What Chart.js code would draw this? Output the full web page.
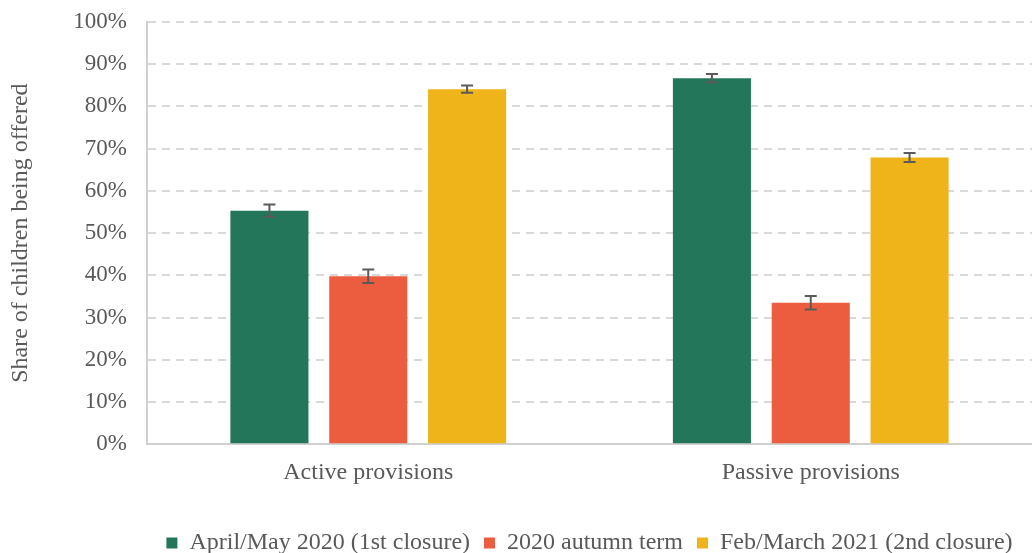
<!DOCTYPE html>
<html>
<head>
<meta charset="utf-8">
<script src="https://cdn.jsdelivr.net/npm/chart.js@4/dist/chart.umd.min.js"></script>
<style>
  html, body { margin: 0; padding: 0; background: #fff; }
  #wrap { width: 1032px; height: 553px; }
</style>
</head>
<body>
<div id="wrap"><canvas id="mainChart"></canvas></div>
<script>
// chart data
var categories = ['Active provisions', 'Passive provisions'];
var seriesNames = ['April/May 2020 (1st closure)', '2020 autumn term', 'Feb/March 2021 (2nd closure)'];
var seriesColors = ['#23765a', '#ec5d40', '#f0b41b'];
var firstClosure = [55.3, 86.7];
var autumnTerm = [39.8, 33.5];
var secondClosure = [84.1, 67.9];
// half width of the error bars, in percentage points
var firstClosureErr = [1.45, 1.0];
var autumnTermErr = [1.6, 1.6];
var secondClosureErr = [0.85, 1.05];
var yTicks = [0, 10, 20, 30, 40, 50, 60, 70, 80, 90, 100];

var seriesValues = [firstClosure, autumnTerm, secondClosure];
var seriesErrors = [firstClosureErr, autumnTermErr, secondClosureErr];

var fontFamily = '"Liberation Serif", "Times New Roman", serif';
var textColor = '#595959';

// draws the error bars on top of every bar
var errorBars = {
    id: 'errorBars',
    afterDatasetsDraw: function(chart) {
        var ctx = chart.ctx;
        var yScale = chart.scales.y;
        ctx.save();
        ctx.strokeStyle = '#5a5a5a';
        ctx.lineWidth = 2;
        chart.data.datasets.forEach(function(ds, i) {
            var meta = chart.getDatasetMeta(i);
            meta.data.forEach(function(bar, j) {
                var v = ds.data[j];
                var e = seriesErrors[i][j];
                var top = yScale.getPixelForValue(v + e);
                var bottom = yScale.getPixelForValue(v - e);
                var x = bar.x;
                ctx.beginPath();
                ctx.moveTo(x, top);
                ctx.lineTo(x, bottom);
                ctx.moveTo(x - 6, top);
                ctx.lineTo(x + 6, top);
                ctx.moveTo(x - 6, bottom);
                ctx.lineTo(x + 6, bottom);
                ctx.stroke();
            });
        });
        ctx.restore();
    }
};

var chartOptions = {
    type: 'bar',
    data: {
        labels: categories,
        datasets: seriesNames.map(function(name, i) {
            return {
                label: name,
                data: seriesValues[i],
                backgroundColor: seriesColors[i],
                borderWidth: 0,
                categoryPercentage: 0.67,
                barPercentage: 0.79
            };
        })
    },
    options: {
        responsive: true,
        maintainAspectRatio: false,
        animation: false,
        layout: { padding: { top: 22, right: -8, left: 6, bottom: -12 } },
        plugins: {
            tooltip: { enabled: false },
            legend: {
                position: 'bottom',
                fullSize: false,
                labels: {
                    boxWidth: 11,
                    boxHeight: 11,
                    padding: 14,
                    color: textColor,
                    font: { family: fontFamily, size: 24 }
                }
            }
        },
        scales: {
            x: {
                grid: { display: false },
                border: { display: true, color: '#d0d0d0', width: 2 },
                afterFit: function(scale) { scale.height += 24; },
                ticks: {
                    color: textColor,
                    padding: 6,
                    font: { family: fontFamily, size: 24 }
                }
            },
            y: {
                min: 0,
                max: 100,
                afterBuildTicks: function(scale) {
                    scale.ticks = yTicks.map(function(v) { return { value: v }; });
                },
                afterFit: function(scale) {
                    scale.width = 141;
                    scale.paddingTop = 0;
                },
                grid: {
                    color: '#d9d9d9',
                    lineWidth: 2,
                    drawTicks: false
                },
                border: { display: true, color: '#d0d0d0', width: 2, dash: [8, 6] },
                ticks: {
                    color: textColor,
                    padding: 20,
                    font: { family: fontFamily, size: 23 },
                    callback: function(v) { return v + '%'; }
                },
                title: {
                    display: true,
                    text: 'Share of children being offered',
                    color: textColor,
                    padding: { top: 0, bottom: 8 },
                    font: { family: fontFamily, size: 24 }
                }
            }
        }
    },
    plugins: [errorBars]
};

var mainChart = new Chart(document.getElementById('mainChart'), chartOptions);
</script>
</body>
</html>
